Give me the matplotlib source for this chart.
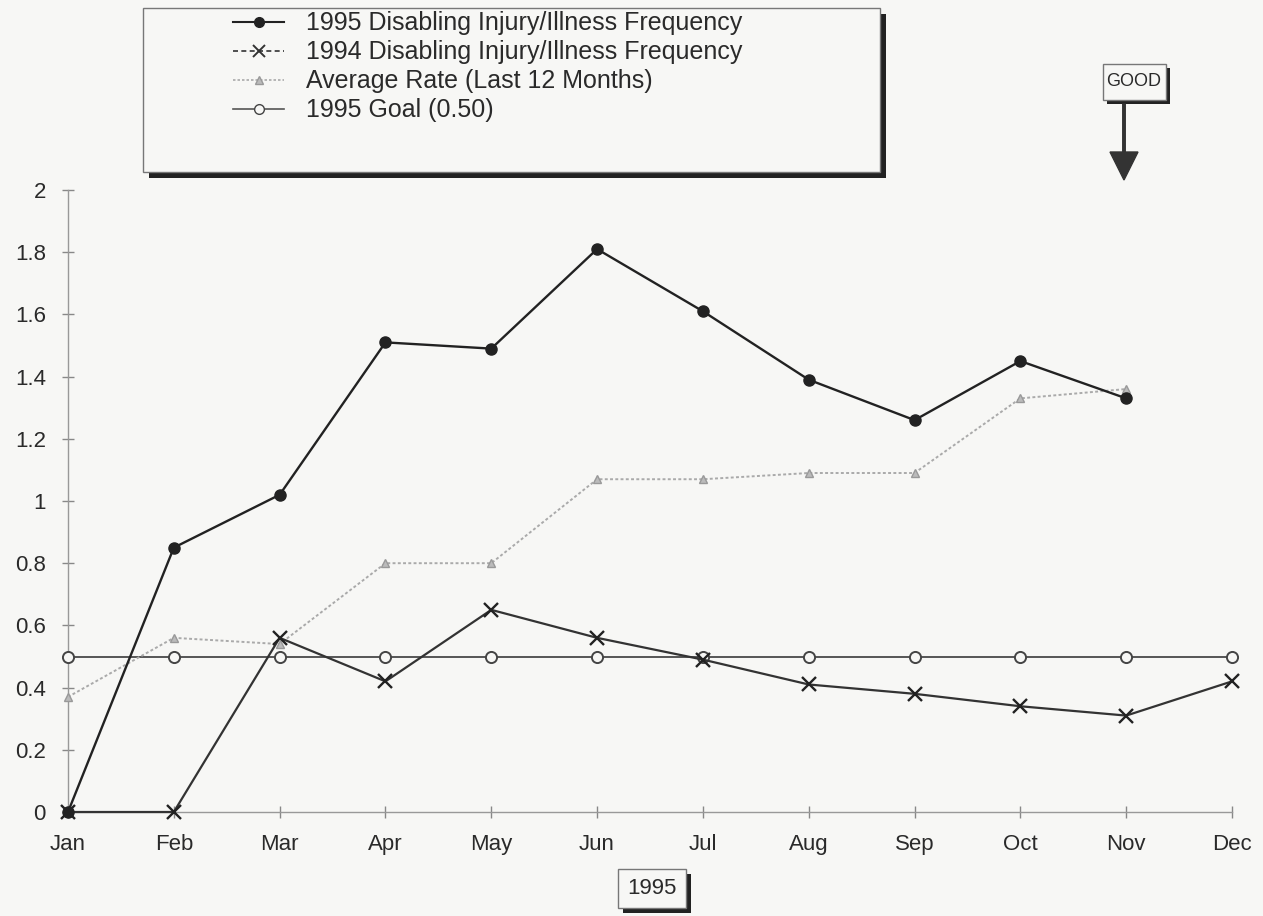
import matplotlib.pyplot as plt
import matplotlib.patches as mpatches
from matplotlib.lines import Line2D

plt.rcParams['font.family'] = ['Liberation Sans', 'DejaVu Sans']

months = ['Jan', 'Feb', 'Mar', 'Apr', 'May', 'Jun',
          'Jul', 'Aug', 'Sep', 'Oct', 'Nov', 'Dec']
freq_1995 = [0.0, 0.85, 1.02, 1.51, 1.49, 1.81, 1.61, 1.39, 1.26, 1.45, 1.33]
freq_1994 = [0.0, 0.0, 0.56, 0.42, 0.65, 0.56, 0.49, 0.41, 0.38, 0.34, 0.31, 0.42]
avg_rate = [0.37, 0.56, 0.54, 0.80, 0.80, 1.07, 1.07, 1.09, 1.09, 1.33, 1.36]
goal_1995 = [0.50] * 12
y_ticks = [0, 0.2, 0.4, 0.6, 0.8, 1, 1.2, 1.4, 1.6, 1.8, 2]
y_labels = ['0', '0.2', '0.4', '0.6', '0.8', '1', '1.2', '1.4', '1.6', '1.8', '2']

W, H = 1263, 916
BG = '#f7f7f5'
TXT = '#2a2a2a'
fig = plt.figure(figsize=(W / 100, H / 100), dpi=100)
fig.patch.set_facecolor(BG)
ax = fig.add_axes([68 / W, 1 - 812 / H, (1232 - 68) / W, (812 - 190) / H])
ax.set_facecolor(BG)

x_all = list(range(len(months)))

l_goal, = ax.plot(x_all, goal_1995, color='#555555', lw=1.4, marker='o',
                  ms=8, mfc=BG, mec='#444444', mew=1.4, clip_on=False,
                  zorder=3)
l_avg, = ax.plot(x_all[:len(avg_rate)], avg_rate, color='#aaaaaa', lw=1.4,
                 ls=(0, (1.5, 1.2)), marker='^', ms=6, mfc='#bbbbbb',
                 mec='#999999', clip_on=False, zorder=3)
l_94, = ax.plot(x_all, freq_1994, color='#333333', lw=1.6, marker='x',
                ms=10, mew=1.7, mec='#222222', clip_on=False, zorder=4)
l_95, = ax.plot(x_all[:len(freq_1995)], freq_1995, color='#222222', lw=1.7,
                marker='o', ms=8, mfc='#222222', mec='#222222', clip_on=False,
                zorder=5)

ax.set_xlim(0, 11)
ax.set_ylim(0, 2)
ax.set_xticks(x_all)
ax.set_xticklabels(months, fontsize=16, color=TXT)
ax.set_yticks(y_ticks)
ax.set_yticklabels(y_labels, fontsize=16, color=TXT)
ax.tick_params(axis='both', direction='inout', length=8, width=1,
               color='#888888')
ax.tick_params(axis='x', pad=12)
ax.tick_params(axis='y', pad=12)
for s in ['top', 'right']:
    ax.spines[s].set_visible(False)
for s in ['left', 'bottom']:
    ax.spines[s].set_color('#999999')
    ax.spines[s].set_linewidth(1)


def shadow_box(x0, y0, x1, y1, lw=1, sh=5):
    # box in pixel coords (top-left origin) with a dark drop shadow
    tr = fig.transFigure
    fx, fy = x0 / W, 1 - y1 / H
    fw, fh = (x1 - x0) / W, (y1 - y0) / H
    fig.patches.append(mpatches.Rectangle(
        (fx + sh / W, fy - sh / H), fw, fh, transform=tr,
        facecolor='#222222', edgecolor='none', zorder=1))
    fig.patches.append(mpatches.Rectangle(
        (fx, fy), fw, fh, transform=tr, facecolor=BG,
        edgecolor='#777777', lw=lw, zorder=2))


# legend frame
shadow_box(143, 8, 880, 172, sh=6)
handles = [
    Line2D([], [], color='#222222', lw=1.5, marker='o', ms=7, mfc='#222222'),
    Line2D([], [], color='#333333', lw=1.2, ls=(0, (3, 2)), marker='x',
           ms=9, mew=1.4),
    Line2D([], [], color='#aaaaaa', lw=1.2, ls=(0, (1.5, 1.2)), marker='^',
           ms=6, mfc='#bbbbbb', mec='#999999'),
    Line2D([], [], color='#555555', lw=1.2, marker='o', ms=7,
           mfc=BG, mec='#444444'),
]
labels = ['1995 Disabling Injury/Illness Frequency',
          '1994 Disabling Injury/Illness Frequency',
          'Average Rate (Last 12 Months)',
          '1995 Goal (0.50)']
leg = fig.legend(handles, labels, loc='upper left',
                 bbox_to_anchor=(216 / W, 1 + 6 / H), frameon=False,
                 fontsize=18, handlelength=2.0, handletextpad=0.9,
                 labelspacing=0.2, borderpad=0.2)
for t in leg.get_texts():
    t.set_color(TXT)
leg.set_zorder(5)

# GOOD box with arrow
shadow_box(1103, 64, 1166, 100, sh=4)
fig.text(1134 / W, 1 - 82 / H, 'GOOD', ha='center', va='center',
         fontsize=13, color=TXT, zorder=5)
fig.patches.append(mpatches.FancyArrow(
    1124 / W, 1 - 104 / H, 0, -(76 / H), width=2.5 / W,
    head_width=28 / W, head_length=28 / H, length_includes_head=True,
    transform=fig.transFigure, color='#333333', zorder=5))

# 1995 box under the axis
shadow_box(618, 869, 686, 908, sh=5)
fig.text(652 / W, 1 - 888 / H, '1995', ha='center', va='center',
         fontsize=16, color=TXT, zorder=5)

fig.savefig('out.png', dpi=100, facecolor=fig.get_facecolor())
